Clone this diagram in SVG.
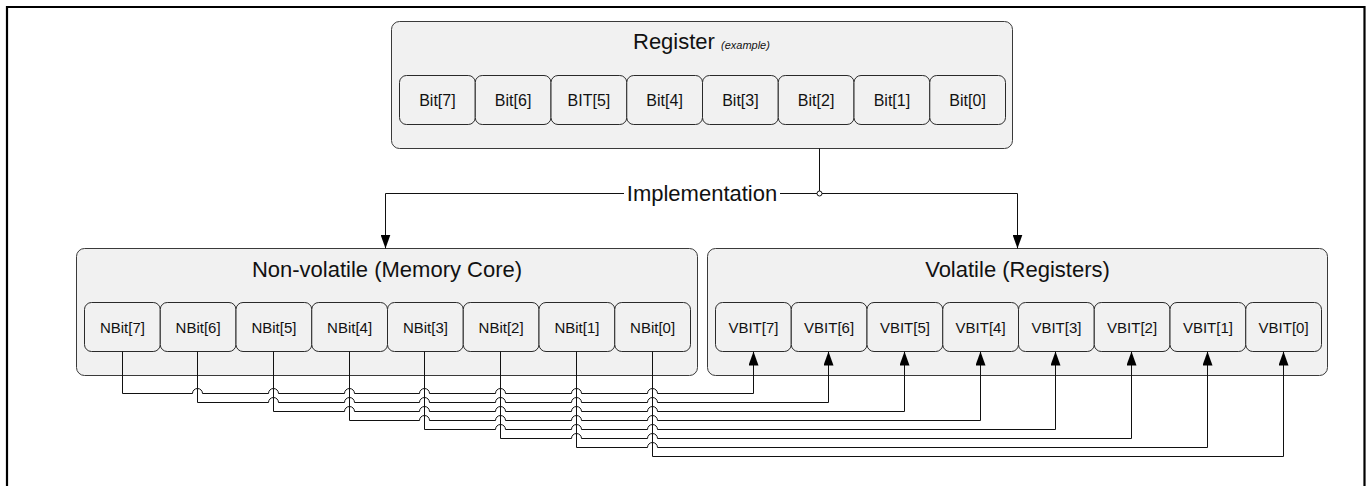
<svg xmlns="http://www.w3.org/2000/svg" width="1370" height="486" viewBox="0 0 1370 486">
<style>
.frame{fill:none;stroke:#000;stroke-width:2.2}
.cont{fill:#f1f1f1;stroke:#3a3a3a;stroke-width:1}
.bit{fill:#f1f1f1;stroke:#2a2a2a;stroke-width:1}
.title{font-family:"Liberation Sans",Arial,sans-serif;font-size:22px;fill:#111;text-anchor:middle}
.ex{font-family:"Liberation Sans",Arial,sans-serif;font-size:11px;font-style:italic;fill:#111}
.bl{font-family:"Liberation Sans",Arial,sans-serif;font-size:16px;fill:#111;text-anchor:middle}
.nl{font-family:"Liberation Sans",Arial,sans-serif;font-size:15px;fill:#111;text-anchor:middle}
.wire{fill:none;stroke:#111;stroke-width:1}
.arr{fill:none;stroke:#111;stroke-width:1;marker-end:url(#ah)}
</style>
<defs>
<marker id="ah" markerUnits="userSpaceOnUse" markerWidth="14" markerHeight="10" refX="14" refY="5" orient="auto" viewBox="0 0 14 10">
<path d="M0,0 L14,5 L0,10 z" fill="#000"/>
</marker>
</defs>
<rect width="1370" height="486" fill="#fff"/>
<path class="frame" d="M7,486 V7 H1364.5 V486"/>

<g id="register">
<rect class="cont" x="391.5" y="21.5" width="621" height="127" rx="8"/>
<text class="title" x="633" y="49" style="text-anchor:start">Register</text>
<text class="ex" x="721" y="49">(example)</text>
<g id="reg-bits">
<rect class="bit" x="399.5" y="75.5" width="75.75" height="49" rx="7"/>
<text class="bl" x="437.4" y="106">Bit[7]</text>
<rect class="bit" x="475.25" y="75.5" width="75.75" height="49" rx="7"/>
<text class="bl" x="513.1" y="106">Bit[6]</text>
<rect class="bit" x="551" y="75.5" width="75.75" height="49" rx="7"/>
<text class="bl" x="588.9" y="106">BIT[5]</text>
<rect class="bit" x="626.75" y="75.5" width="75.75" height="49" rx="7"/>
<text class="bl" x="664.6" y="106">Bit[4]</text>
<rect class="bit" x="702.5" y="75.5" width="75.75" height="49" rx="7"/>
<text class="bl" x="740.4" y="106">Bit[3]</text>
<rect class="bit" x="778.25" y="75.5" width="75.75" height="49" rx="7"/>
<text class="bl" x="816.1" y="106">Bit[2]</text>
<rect class="bit" x="854" y="75.5" width="75.75" height="49" rx="7"/>
<text class="bl" x="891.9" y="106">Bit[1]</text>
<rect class="bit" x="929.75" y="75.5" width="75.75" height="49" rx="7"/>
<text class="bl" x="967.6" y="106">Bit[0]</text>
</g>
</g>

<g id="nonvolatile">
<rect class="cont" x="76.5" y="248.5" width="621" height="127" rx="8"/>
<text class="title" x="387" y="277">Non-volatile (Memory Core)</text>
<rect class="bit" x="84.5" y="302.5" width="75.75" height="49" rx="7"/>
<text class="nl" x="122.4" y="333">NBit[7]</text>
<rect class="bit" x="160.25" y="302.5" width="75.75" height="49" rx="7"/>
<text class="nl" x="198.1" y="333">NBit[6]</text>
<rect class="bit" x="236" y="302.5" width="75.75" height="49" rx="7"/>
<text class="nl" x="273.9" y="333">NBit[5]</text>
<rect class="bit" x="311.75" y="302.5" width="75.75" height="49" rx="7"/>
<text class="nl" x="349.6" y="333">NBit[4]</text>
<rect class="bit" x="387.5" y="302.5" width="75.75" height="49" rx="7"/>
<text class="nl" x="425.4" y="333">NBit[3]</text>
<rect class="bit" x="463.25" y="302.5" width="75.75" height="49" rx="7"/>
<text class="nl" x="501.1" y="333">NBit[2]</text>
<rect class="bit" x="539" y="302.5" width="75.75" height="49" rx="7"/>
<text class="nl" x="576.9" y="333">NBit[1]</text>
<rect class="bit" x="614.75" y="302.5" width="75.75" height="49" rx="7"/>
<text class="nl" x="652.6" y="333">NBit[0]</text>
</g>

<g id="volatile">
<rect class="cont" x="707.5" y="248.5" width="620" height="127" rx="8"/>
<text class="title" x="1017.5" y="277">Volatile (Registers)</text>
<rect class="bit" x="715.5" y="302.5" width="75.75" height="49" rx="7"/>
<text class="nl" x="753.4" y="333">VBIT[7]</text>
<rect class="bit" x="791.25" y="302.5" width="75.75" height="49" rx="7"/>
<text class="nl" x="829.1" y="333">VBIT[6]</text>
<rect class="bit" x="867" y="302.5" width="75.75" height="49" rx="7"/>
<text class="nl" x="904.9" y="333">VBIT[5]</text>
<rect class="bit" x="942.75" y="302.5" width="75.75" height="49" rx="7"/>
<text class="nl" x="980.6" y="333">VBIT[4]</text>
<rect class="bit" x="1018.5" y="302.5" width="75.75" height="49" rx="7"/>
<text class="nl" x="1056.4" y="333">VBIT[3]</text>
<rect class="bit" x="1094.25" y="302.5" width="75.75" height="49" rx="7"/>
<text class="nl" x="1132.1" y="333">VBIT[2]</text>
<rect class="bit" x="1170" y="302.5" width="75.75" height="49" rx="7"/>
<text class="nl" x="1207.9" y="333">VBIT[1]</text>
<rect class="bit" x="1245.75" y="302.5" width="75.75" height="49" rx="7"/>
<text class="nl" x="1283.6" y="333">VBIT[0]</text>
</g>

<g id="connectors">
<path class="wire" d="M819.5,148.5 V193.5"/>
<path class="arr" d="M624,193.5 H385.5 V248.5"/>
<path class="arr" d="M780,193.5 H1017.5 V248.5"/>
<circle cx="819.5" cy="193.5" r="2.5" fill="#fff" stroke="#111" stroke-width="1"/>
<rect x="624" y="182" width="156" height="24" fill="#fff"/>
<text class="title" x="702" y="201">Implementation</text>

<path class="arr" d="M122.5,351.5 V393.5 H192.5 a5,5 0 0 1 10,0 H268.5 a5,5 0 0 1 10,0 H344.5 a5,5 0 0 1 10,0 H419.5 a5,5 0 0 1 10,0 H495.5 a5,5 0 0 1 10,0 H571.5 a5,5 0 0 1 10,0 H647.5 a5,5 0 0 1 10,0 H753.5 V351.5"/>
<path class="arr" d="M197.5,351.5 V402.5 H268.5 a5,5 0 0 1 10,0 H344.5 a5,5 0 0 1 10,0 H419.5 a5,5 0 0 1 10,0 H495.5 a5,5 0 0 1 10,0 H571.5 a5,5 0 0 1 10,0 H647.5 a5,5 0 0 1 10,0 H828.5 V351.5"/>
<path class="arr" d="M273.5,351.5 V411.5 H344.5 a5,5 0 0 1 10,0 H419.5 a5,5 0 0 1 10,0 H495.5 a5,5 0 0 1 10,0 H571.5 a5,5 0 0 1 10,0 H647.5 a5,5 0 0 1 10,0 H904.5 V351.5"/>
<path class="arr" d="M349.5,351.5 V420.5 H419.5 a5,5 0 0 1 10,0 H495.5 a5,5 0 0 1 10,0 H571.5 a5,5 0 0 1 10,0 H647.5 a5,5 0 0 1 10,0 H980.5 V351.5"/>
<path class="arr" d="M424.5,351.5 V429.5 H495.5 a5,5 0 0 1 10,0 H571.5 a5,5 0 0 1 10,0 H647.5 a5,5 0 0 1 10,0 H1055.5 V351.5"/>
<path class="arr" d="M500.5,351.5 V438.5 H571.5 a5,5 0 0 1 10,0 H647.5 a5,5 0 0 1 10,0 H1131.5 V351.5"/>
<path class="arr" d="M576.5,351.5 V447.5 H647.5 a5,5 0 0 1 10,0 H1207.5 V351.5"/>
<path class="arr" d="M652.5,351.5 V456.5 H1283.5 V351.5"/>
</g>
</svg>
